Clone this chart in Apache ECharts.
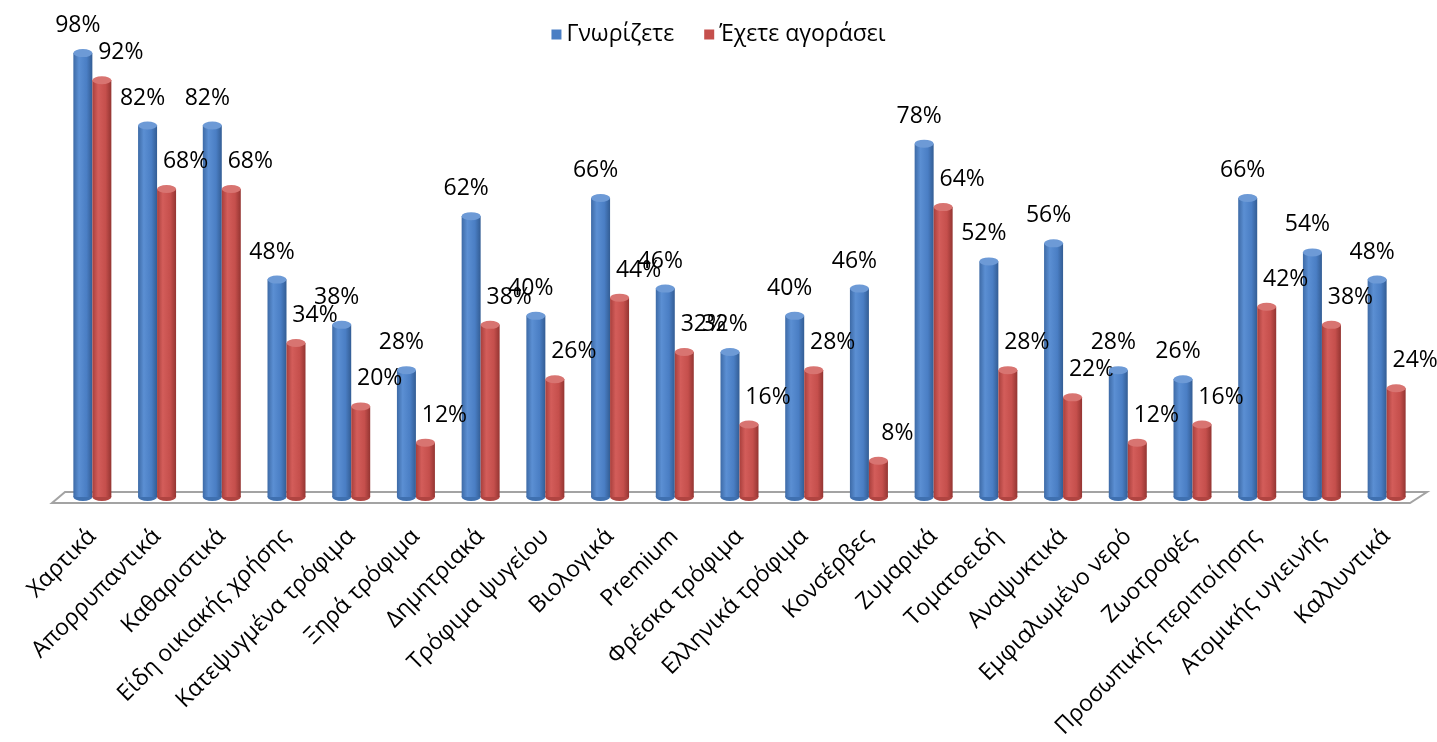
<!DOCTYPE html>
<html>
<head>
<meta charset="utf-8">
<style>
  html, body { margin: 0; padding: 0; background: #ffffff; }
  #chart { width: 1437px; height: 742px; }
</style>
<script src="https://cdn.jsdelivr.net/npm/echarts@6/dist/echarts.min.js"></script>
</head>
<body>
<div id="chart"></div>
<script>
// Product categories along the horizontal axis
const categories = [
  'Χαρτικά', 'Απορρυπαντικά', 'Καθαριστικά', 'Είδη οικιακής χρήσης',
  'Κατεψυγμένα τρόφιμα', 'Ξηρά τρόφιμα', 'Δημητριακά', 'Τρόφιμα ψυγείου',
  'Βιολογικά', 'Premium', 'Φρέσκα τρόφιμα', 'Ελληνικά τρόφιμα', 'Κονσέρβες',
  'Ζυμαρικά', 'Τοματοειδή', 'Αναψυκτικά', 'Εμφιαλωμένο νερό', 'Ζωοτροφές',
  'Προσωπικής περιποίησης', 'Ατομικής υγιεινής', 'Καλλυντικά'
];

// Series names
const seriesNames = ['Γνωρίζετε', 'Έχετε αγοράσει'];

// Percentages per category
const knowValues = [98, 82, 82, 48, 38, 28, 62, 40, 66, 46, 32, 40, 46, 78, 52, 56, 28, 26, 66, 54, 48];
const boughtValues = [92, 68, 68, 34, 20, 12, 38, 26, 44, 32, 16, 28, 8, 64, 28, 22, 12, 16, 42, 38, 24];

const FONT = '"Open Sans", "Noto Sans", sans-serif';
const BAR_W = 19;

// Horizontal gradients give the bars a cylindrical look
function cylinder(edgeL, light, mid, edgeR) {
  return new echarts.graphic.LinearGradient(0, 0, 1, 0, [
    { offset: 0, color: edgeL },
    { offset: 0.3, color: light },
    { offset: 0.7, color: mid },
    { offset: 1, color: edgeR }
  ]);
}
const blueBody = cylinder('#3d6aa6', '#5b8fd3', '#4a7ec4', '#335d94');
const redBody = cylinder('#a83f3c', '#d35d5a', '#c54f4c', '#943532');
const blueCap = '#6d9ad6';
const redCap = '#d87471';

const chart = echarts.init(document.getElementById('chart'), null, { renderer: 'canvas' });

function valueLabel(dx) {
  return {
    show: true,
    position: 'top',
    distance: 5,
    offset: [dx, -11],
    fontFamily: FONT,
    fontSize: 23,
    color: '#000000',
    formatter: p => p.value + '%'
  };
}

// Elliptical end caps; top caps use the main category axis, bottom caps a twin axis
// so each group of pictorial bars is laid out in the same two slots as the bars.
function capSeries(values, color, atEnd) {
  return {
    type: 'pictorialBar',
    xAxisIndex: atEnd ? 0 : 1,
    data: values,
    symbol: 'circle',
    symbolSize: [BAR_W, 8],
    symbolPosition: atEnd ? 'end' : 'start',
    symbolOffset: [0, atEnd ? '-50%' : '50%'],
    barWidth: BAR_W,
    barGap: '0%',
    itemStyle: { color: color },
    z: atEnd ? 5 : 1,
    silent: true,
    legendHoverLink: false
  };
}

const option = {
  animation: false,
  backgroundColor: '#ffffff',
  textStyle: { fontFamily: FONT },
  legend: {
    top: 18,
    left: 'center',
    itemWidth: 10,
    itemHeight: 10,
    itemGap: 30,
    icon: 'rect',
    textStyle: { fontFamily: FONT, fontSize: 23, color: '#000000' },
    data: [
      { name: seriesNames[0], itemStyle: { color: '#4a7ec4' } },
      { name: seriesNames[1], itemStyle: { color: '#c54f4c' } }
    ]
  },
  grid: { left: 60, right: 18, top: 44, bottom: 245, containLabel: false },
  xAxis: [
    {
      type: 'category',
      data: categories,
      axisLine: { show: false },
      axisTick: { show: false },
      axisLabel: {
        rotate: 45,
        interval: 0,
        margin: 36,
        fontFamily: FONT,
        fontSize: 23,
        color: '#000000'
      }
    },
    {
      type: 'category',
      data: categories,
      show: false
    }
  ],
  yAxis: {
    type: 'value',
    min: 0,
    max: 100,
    show: false,
    splitLine: { show: false }
  },
  series: [
    {
      name: seriesNames[0],
      type: 'bar',
      data: knowValues,
      barWidth: BAR_W,
      barGap: '0%',
      itemStyle: { color: blueBody },
      label: valueLabel(-5),
      z: 3
    },
    {
      name: seriesNames[1],
      type: 'bar',
      data: boughtValues,
      barWidth: BAR_W,
      barGap: '0%',
      itemStyle: { color: redBody },
      label: valueLabel(19),
      z: 3
    },
    capSeries(knowValues, blueCap, true),
    capSeries(boughtValues, redCap, true),
    capSeries(knowValues, '#3f70b0', false),
    capSeries(boughtValues, '#b04441', false)
  ]
};

chart.setOption(option);

// Perspective floor under the bars, placed from the grid's own geometry
const rect = chart.getModel().getComponent('grid', 0).coordinateSystem.getRect();
const y0 = rect.y + rect.height;
const x1 = rect.x;
const x2 = rect.x + rect.width;
chart.setOption({
  graphic: [{
    type: 'polygon',
    z: 0,
    silent: true,
    shape: {
      points: [
        [x1 + 5, y0 - 5],
        [x2 + 8, y0 - 5],
        [x2 - 9, y0 + 6],
        [x1 - 8, y0 + 6]
      ]
    },
    style: { fill: '#ffffff', stroke: '#a3a3a3', lineWidth: 2 }
  }]
});
</script>
</body>
</html>
